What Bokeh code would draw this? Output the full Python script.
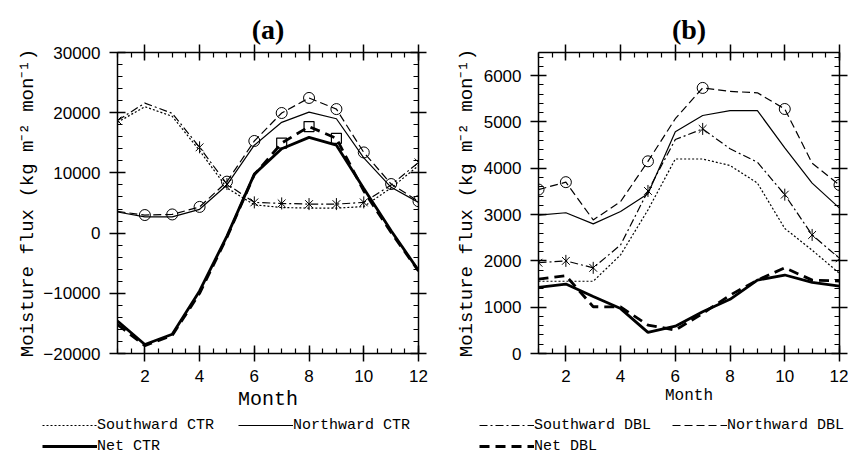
import numpy as np
from bokeh.plotting import figure
from bokeh.layouts import row, column
from bokeh.models import (Range1d, SingleIntervalTicker, LinearAxis, CustomJSTickFormatter,
                          Legend, LegendItem)
from bokeh.embed import file_html
from bokeh.resources import INLINE

# ---------------- data ----------------
months = [1, 2, 3, 4, 5, 6, 7, 8, 9, 10, 11, 12]

# panel (a)
south_ctr_a = [18400, 21000, 19400, 13700, 7500, 4700, 4250, 4150, 4150, 4400, 7500, 11200]
north_ctr_a = [3500, 2700, 2700, 3950, 8000, 14600, 18400, 20100, 19000, 12500, 7600, 5100]
net_ctr_a = [-14600, -18500, -16800, -9600, -500, 9800, 14000, 15900, 14600, 7400, 400, -6200]
south_dbl_a = [18700, 21600, 19900, 14250, 8150, 5100, 4930, 4820, 4820, 5100, 8000, 11750]
north_dbl_a = [3600, 3000, 3100, 4350, 8550, 15300, 19950, 22450, 20600, 13400, 8150, 5300]
net_dbl_a = [-15200, -18700, -17000, -10000, -700, 9700, 14950, 17700, 15750, 7000, 100, -6300]

star_months_a = [1, 4, 5, 6, 7, 8, 9, 10, 12]
circle_months_a = [2, 3, 4, 5, 6, 7, 8, 9, 10, 11, 12]
square_months_a = [7, 8, 9]

# panel (b)
south_ctr_b = [1560, 1560, 1560, 2130, 3100, 4200, 4200, 4060, 3680, 2700, 2230, 1730]
north_ctr_b = [2990, 3040, 2800, 3065, 3450, 4790, 5140, 5245, 5245, 4440, 3680, 3140]
net_ctr_b = [1430, 1500, 1230, 970, 455, 590, 900, 1170, 1585, 1695, 1535, 1455]
south_dbl_b = [1960, 2000, 1850, 2345, 3510, 4620, 4850, 4420, 4130, 3430, 2560, 2055]
north_dbl_b = [3540, 3700, 2885, 3280, 4150, 5070, 5735, 5660, 5630, 5280, 4110, 3640]
net_dbl_b = [1605, 1680, 1010, 1005, 615, 505, 865, 1260, 1585, 1850, 1585, 1565]

star_months_b = [1, 2, 3, 5, 7, 10, 11, 12]
circle_months_b = [1, 2, 5, 7, 10, 12]

y_label = "Moisture flux (kg m\u207b\u00b2 mon\u207b\u00b9)"

MINUS_FMT = "return tick < 0 ? '\u2212' + Math.abs(tick) : String(tick);"

STYLES = {
    "south_ctr": dict(line_width=1.2, line_dash="2 2"),
    "north_ctr": dict(line_width=1.2),
    "net_ctr": dict(line_width=2.8),
    "south_dbl": dict(line_width=1.2, line_dash="8 3 2 3"),
    "north_dbl": dict(line_width=1.2, line_dash="8 4"),
    "net_dbl": dict(line_width=2.8, line_dash="10 6"),
}


def pick(series, sel):
    return [series[months.index(m)] for m in sel]


def style_axis(ax, labels=True):
    ax.axis_line_width = 1.5
    ax.axis_line_color = "black"
    ax.major_tick_line_color = "black"
    ax.minor_tick_line_color = "black"
    ax.major_tick_line_width = 1.5
    ax.minor_tick_line_width = 1.2
    ax.major_tick_in = 8
    ax.major_tick_out = 8
    ax.minor_tick_in = 5
    ax.minor_tick_out = 0
    ax.axis_label_text_color = "black"
    if labels:
        ax.major_label_text_font = "Liberation Sans"
        ax.major_label_text_font_size = "17px"
        ax.major_label_text_color = "black"
    else:
        ax.major_label_text_font_size = "0px"
        ax.major_label_standoff = 0


def make_panel(title, yr, yint, series, stars, circles, squares,
               month_size, month_standoff, ylab_standoff, bl, br):
    p = figure(x_range=Range1d(1, 12), y_range=Range1d(*yr),
               frame_width=301, frame_height=301,
               min_border_left=bl, min_border_right=br, min_border_top=52, min_border_bottom=63,
               output_backend="svg", toolbar_location=None, title=title,
               x_axis_type=None, y_axis_type=None)
    p.outline_line_color = None
    p.grid.visible = False
    p.background_fill_color = "white"
    p.border_fill_color = "white"

    p.title.text_font = "Liberation Serif"
    p.title.text_font_style = "bold"
    p.title.text_font_size = "28px"
    p.title.text_color = "black"
    p.title.align = "center"
    p.title.standoff = 0

    xb = LinearAxis(ticker=SingleIntervalTicker(interval=2, num_minor_ticks=4), axis_label="Month")
    style_axis(xb)
    xb.axis_label_text_font = "Liberation Mono"
    xb.axis_label_text_font_size = month_size
    xb.axis_label_text_font_style = "normal"
    xb.axis_label_standoff = month_standoff
    xb.major_label_standoff = 8
    p.add_layout(xb, "below")

    yl = LinearAxis(ticker=SingleIntervalTicker(interval=yint, num_minor_ticks=5),
                    formatter=CustomJSTickFormatter(code=MINUS_FMT), axis_label=y_label)
    style_axis(yl)
    yl.axis_label_text_font = "Liberation Mono"
    yl.axis_label_text_font_size = "19px"
    yl.axis_label_text_font_style = "normal"
    yl.axis_label_standoff = ylab_standoff
    yl.major_label_standoff = 9
    p.add_layout(yl, "left")

    xt = LinearAxis(ticker=SingleIntervalTicker(interval=2, num_minor_ticks=4),
                    formatter=CustomJSTickFormatter(code="return '';"))
    style_axis(xt, labels=False)
    xt.major_label_standoff = 4
    p.add_layout(xt, "above")
    yr_ax = LinearAxis(ticker=SingleIntervalTicker(interval=yint, num_minor_ticks=5),
                       formatter=CustomJSTickFormatter(code="return '';"))
    style_axis(yr_ax, labels=False)
    p.add_layout(yr_ax, "right")

    s_ctr, n_ctr, net_ctr, s_dbl, n_dbl, net_dbl = series
    for key, ys in zip(["south_ctr", "north_ctr", "net_ctr", "south_dbl", "north_dbl", "net_dbl"],
                       [s_ctr, n_ctr, net_ctr, s_dbl, n_dbl, net_dbl]):
        p.line(months, ys, line_color="black", **STYLES[key])

    p.scatter(stars, pick(s_dbl, stars), marker="x", size=11, line_color="black", line_width=1)
    p.scatter(stars, pick(s_dbl, stars), marker="dash", angle=np.pi / 2, size=12,
              line_color="black", line_width=1)
    p.scatter(circles, pick(n_dbl, circles), marker="circle", size=11, fill_color=None,
              line_color="black", line_width=1)
    if squares:
        p.scatter(squares, pick(net_dbl, squares), marker="square", size=10, fill_color=None,
                  line_color="black", line_width=1.2)
    return p


def make_legend_fig(width, rows, x0, spacing):
    lf = figure(width=width, height=39, x_range=Range1d(0, 1), y_range=Range1d(0, 1),
                min_border=0, output_backend="svg", toolbar_location=None,
                x_axis_type=None, y_axis_type=None)
    lf.outline_line_color = None
    lf.grid.visible = False
    for i, items in enumerate(rows):
        litems = []
        for label, key in items:
            # legend sample only: a single undefined point draws nothing in the frame
            r = lf.line([np.nan], [np.nan], line_color="black", **STYLES[key])
            litems.append(LegendItem(label=label, renderers=[r]))
        leg = Legend(items=litems, orientation="horizontal", location=(x0, 21 - 21 * i),
                     padding=0, margin=0, spacing=spacing,
                     glyph_width=55, glyph_height=18, label_height=18, label_standoff=0,
                     label_text_font="Liberation Mono", label_text_font_size="15px",
                     label_text_color="black",
                     border_line_alpha=0, background_fill_alpha=0)
        lf.add_layout(leg, "center")
    return lf


pa = make_panel("(a)", (-20000, 30000), 10000,
                (south_ctr_a, north_ctr_a, net_ctr_a, south_dbl_a, north_dbl_a, net_dbl_a),
                star_months_a, circle_months_a, square_months_a, "20px", 3, 1, 117, 10)
pb = make_panel("(b)", (0, 6500), 1000,
                (south_ctr_b, north_ctr_b, net_ctr_b, south_dbl_b, north_dbl_b, net_dbl_b),
                star_months_b, circle_months_b, [], "16px", 2, 3, 110, 9)

la = make_legend_fig(428, [[("Southward CTR", "south_ctr"), ("Northward CTR", "north_ctr")],
                           [("Net CTR", "net_ctr")]], 42, 24)
lb = make_legend_fig(420, [[("Southward DBL", "south_dbl"), ("Northward DBL", "north_dbl")],
                           [("Net DBL", "net_dbl")]], 51, 21)

layout = column(row(pa, pb), row(la, lb), spacing=0)
open("out.html", "w").write(file_html(layout, INLINE))
